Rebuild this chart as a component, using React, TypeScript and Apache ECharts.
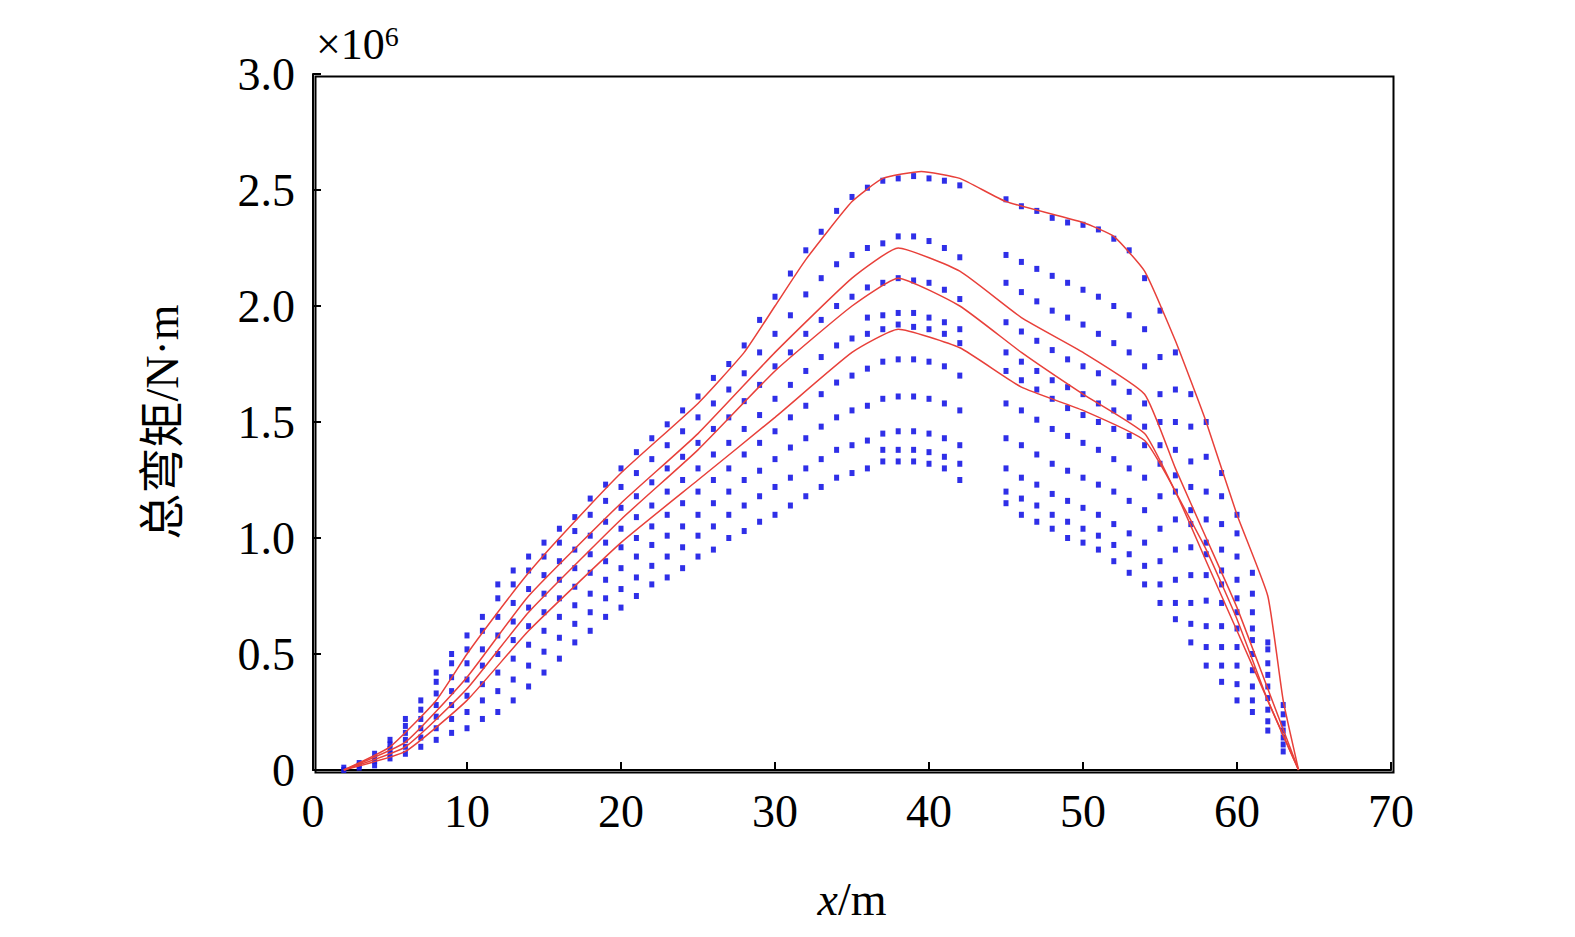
import React, { useRef, useEffect } from 'react';
import * as echarts from 'echarts';

// scatter columns: [x, y values (×10^6 N·m)...]
const dotColumns: number[][] = [
  [2, 0.0, 0.01],
  [3, 0.01, 0.02, 0.03],
  [4, 0.02, 0.04, 0.05, 0.07],
  [5, 0.05, 0.07, 0.09, 0.11, 0.13],
  [6, 0.07, 0.1, 0.13, 0.16, 0.19, 0.22],
  [7, 0.1, 0.14, 0.18, 0.22, 0.26, 0.3],
  [8, 0.13, 0.18, 0.23, 0.28, 0.33, 0.38, 0.42],
  [9, 0.16, 0.22, 0.28, 0.34, 0.4, 0.46, 0.5],
  [10, 0.18, 0.25, 0.32, 0.39, 0.46, 0.52, 0.58],
  [11, 0.22, 0.3, 0.37, 0.45, 0.52, 0.6, 0.66],
  [12, 0.25, 0.34, 0.42, 0.5, 0.58, 0.66, 0.74, 0.8],
  [13, 0.3, 0.39, 0.48, 0.56, 0.64, 0.72, 0.8, 0.86],
  [14, 0.36, 0.45, 0.54, 0.62, 0.7, 0.78, 0.86, 0.92],
  [15, 0.42, 0.51, 0.6, 0.68, 0.76, 0.84, 0.92, 0.98],
  [16, 0.48, 0.57, 0.66, 0.74, 0.82, 0.9, 0.98, 1.04],
  [17, 0.55, 0.63, 0.71, 0.79, 0.87, 0.95, 1.03, 1.09],
  [18, 0.6, 0.68, 0.76, 0.85, 0.93, 1.01, 1.1, 1.17],
  [19, 0.66, 0.74, 0.82, 0.9, 0.98, 1.07, 1.16, 1.23],
  [20, 0.7, 0.78, 0.87, 0.96, 1.04, 1.13, 1.22, 1.3],
  [21, 0.75, 0.83, 0.92, 1.0, 1.09, 1.18, 1.28, 1.37],
  [22, 0.8, 0.88, 0.97, 1.05, 1.14, 1.24, 1.34, 1.43],
  [23, 0.83, 0.92, 1.01, 1.1, 1.2, 1.3, 1.4, 1.49],
  [24, 0.87, 0.96, 1.05, 1.15, 1.25, 1.35, 1.46, 1.55],
  [25, 0.92, 1.01, 1.1, 1.2, 1.3, 1.41, 1.52, 1.61],
  [26, 0.95, 1.05, 1.15, 1.25, 1.36, 1.47, 1.58, 1.69],
  [27, 1.0, 1.1, 1.2, 1.3, 1.41, 1.52, 1.64, 1.75],
  [28, 1.03, 1.14, 1.25, 1.36, 1.47, 1.59, 1.71, 1.83],
  [29, 1.07, 1.18, 1.29, 1.41, 1.53, 1.66, 1.8, 1.94],
  [30, 1.1, 1.22, 1.34, 1.46, 1.6, 1.74, 1.88, 2.04],
  [31, 1.14, 1.26, 1.39, 1.52, 1.66, 1.8, 1.96, 2.14],
  [32, 1.18, 1.3, 1.43, 1.57, 1.72, 1.88, 2.05, 2.24],
  [33, 1.22, 1.34, 1.48, 1.62, 1.78, 1.94, 2.12, 2.32],
  [34, 1.26, 1.38, 1.52, 1.67, 1.83, 2.0, 2.18, 2.41],
  [35, 1.28, 1.4, 1.55, 1.7, 1.86, 2.04, 2.22, 2.47],
  [36, 1.3, 1.42, 1.57, 1.73, 1.88, 1.95, 2.08, 2.25, 2.51],
  [37, 1.33, 1.38, 1.45, 1.6, 1.76, 1.9, 1.96, 2.1, 2.27, 2.54],
  [38, 1.33, 1.38, 1.46, 1.61, 1.77, 1.92, 1.97, 2.12, 2.3, 2.55],
  [39, 1.33, 1.38, 1.46, 1.61, 1.77, 1.91, 1.97, 2.11, 2.3, 2.56],
  [40, 1.32, 1.37, 1.45, 1.6, 1.76, 1.9, 1.95, 2.1, 2.28, 2.55],
  [41, 1.3, 1.35, 1.43, 1.58, 1.74, 1.88, 1.93, 2.07, 2.25, 2.54],
  [42, 1.25, 1.32, 1.4, 1.55, 1.7, 1.84, 1.9, 2.03, 2.21, 2.52],
  [45, 1.15, 1.2, 1.3, 1.43, 1.58, 1.72, 1.8, 1.93, 2.1, 2.22, 2.46],
  [46, 1.1, 1.17, 1.26, 1.4, 1.55, 1.68, 1.76, 1.89, 2.06, 2.19, 2.43],
  [47, 1.07, 1.14, 1.23, 1.36, 1.51, 1.64, 1.72, 1.85, 2.02, 2.16, 2.41],
  [48, 1.04, 1.1, 1.19, 1.32, 1.47, 1.6, 1.68, 1.81, 1.98, 2.13, 2.38],
  [49, 1.0, 1.07, 1.16, 1.29, 1.44, 1.56, 1.65, 1.77, 1.95, 2.1, 2.36],
  [50, 0.98, 1.04, 1.13, 1.26, 1.41, 1.53, 1.62, 1.74, 1.92, 2.07, 2.35],
  [51, 0.95, 1.01, 1.1, 1.23, 1.38, 1.5, 1.58, 1.71, 1.88, 2.04, 2.33],
  [52, 0.9, 0.97, 1.06, 1.2, 1.34, 1.47, 1.55, 1.67, 1.84, 2.0, 2.29],
  [53, 0.85, 0.93, 1.02, 1.16, 1.3, 1.44, 1.52, 1.63, 1.8, 1.96, 2.24],
  [54, 0.8, 0.88, 0.98, 1.12, 1.26, 1.4, 1.48, 1.58, 1.74, 1.9, 2.12],
  [55, 0.72, 0.8, 0.9, 1.04, 1.18, 1.32, 1.4, 1.5, 1.62, 1.78, 1.98],
  [56, 0.65, 0.72, 0.82, 0.95, 1.08, 1.2, 1.27, 1.38, 1.5, 1.64, 1.8],
  [57, 0.55, 0.63, 0.72, 0.84, 0.96, 1.06, 1.12, 1.22, 1.33, 1.48, 1.62],
  [58, 0.45, 0.53, 0.62, 0.73, 0.84, 0.93, 0.98, 1.08, 1.2, 1.35, 1.5],
  [59, 0.38, 0.45, 0.53, 0.62, 0.72, 0.8, 0.86, 0.95, 1.06, 1.18, 1.28],
  [60, 0.3, 0.37, 0.45, 0.53, 0.61, 0.68, 0.74, 0.82, 0.92, 1.02, 1.1],
  [61, 0.25, 0.3, 0.36, 0.43, 0.5, 0.56, 0.61, 0.68, 0.76, 0.85],
  [62, 0.17, 0.21, 0.26, 0.31, 0.36, 0.41, 0.46, 0.52, 0.55],
  [63, 0.08, 0.11, 0.14, 0.17, 0.2, 0.24, 0.28],
];

const envelopeTop: number[][] = [
  [2, 0], [5, 0.1], [8, 0.3], [10, 0.5], [12, 0.68], [14, 0.85], [16, 1.0], [20, 1.28],
  [25, 1.58], [28, 1.8], [30, 2.0], [32, 2.2], [35, 2.45], [37, 2.55], [39.5, 2.58], [42, 2.55],
  [45, 2.45], [50, 2.36], [52, 2.3], [54, 2.15], [56, 1.85], [58, 1.5], [60, 1.1], [62, 0.75],
  [63, 0.3], [64, 0],
];
const envelope2: number[][] = [
  [2, 0], [6, 0.12], [10, 0.4], [14, 0.75], [20, 1.15], [25, 1.45], [30, 1.8], [35, 2.12],
  [38, 2.25], [42, 2.15], [46, 1.95], [50, 1.8], [54, 1.62], [56, 1.3], [58, 1.0], [60, 0.7],
  [62, 0.35], [64, 0],
];
const envelope3: number[][] = [
  [2, 0], [6, 0.1], [10, 0.35], [14, 0.68], [20, 1.08], [25, 1.38], [30, 1.72], [35, 2.0],
  [38, 2.12], [42, 2.0], [46, 1.8], [50, 1.62], [54, 1.45], [56, 1.2], [58, 0.95], [60, 0.65],
  [62, 0.3], [64, 0],
];
const envelope4: number[][] = [
  [2, 0], [6, 0.08], [10, 0.3], [14, 0.6], [20, 0.98], [25, 1.25], [30, 1.52], [35, 1.8],
  [38, 1.9], [42, 1.82], [46, 1.65], [50, 1.55], [54, 1.42], [56, 1.2], [58, 0.9], [60, 0.6],
  [62, 0.3], [64, 0],
];

const FONT = '"Liberation Serif", "Noto Sans CJK SC", serif';

const App: React.FC = () => {
  const ref = useRef<HTMLDivElement>(null);

  useEffect(() => {
    if (!ref.current) return;
    const chart = echarts.init(ref.current, null, { renderer: 'svg' });
    const dots: number[][] = [];
    dotColumns.forEach(([x, ...ys]) => ys.forEach((y) => dots.push([x, y])));
    const axisLine = { show: true, lineStyle: { color: '#000', width: 2 } };
    const tick = { inside: true, length: 8, lineStyle: { color: '#000', width: 2 } };
    const lineSeries = (data: number[][]) => ({
      type: 'line', data, smooth: 0.15, showSymbol: false,
      lineStyle: { color: '#e8403a', width: 1.5 }, z: 3,
    });
    chart.setOption({
      animation: false,
      backgroundColor: '#fff',
      grid: { left: 313, top: 74, width: 1078, height: 696, outerBoundsMode: 'none' },
      xAxis: {
        type: 'value', min: 0, max: 70, interval: 10,
        axisLine, axisTick: tick,
        axisLabel: { fontFamily: FONT, fontSize: 46, color: '#000', margin: 18 },
        splitLine: { show: false },
        name: '{i|x}/m', nameLocation: 'middle', nameGap: 106,
        nameTextStyle: { fontFamily: FONT, fontSize: 46, color: '#000', rich: { i: { fontStyle: 'italic', fontFamily: FONT, fontSize: 46 } } },
      },
      yAxis: {
        type: 'value', min: 0, max: 3, interval: 0.5,
        axisLine, axisTick: tick,
        axisLabel: { fontFamily: FONT, fontSize: 46, color: '#000', margin: 18, formatter: (v: number) => (v === 0 ? '0' : v.toFixed(1)) },
        splitLine: { show: false },
        name: '总弯矩/N·m', nameLocation: 'middle', nameGap: 128,
        nameTextStyle: { fontFamily: FONT, fontSize: 46, color: '#000' },
      },
      graphic: [
        {
          type: 'rect', left: 313, top: 74, silent: true,
          shape: { width: 1078, height: 696 },
          style: { fill: 'none', stroke: '#000', lineWidth: 2 },
        },
        {
          type: 'text', left: 316, top: 22,
          style: { text: '×10{s|6}', fontFamily: FONT, fontSize: 44, fill: '#000', rich: { s: { fontSize: 28, verticalAlign: 'top', fontFamily: FONT } } },
        },
      ],
      series: [
        {
          type: 'scatter', data: dots, symbol: 'rect', symbolSize: [5, 6],
          itemStyle: { color: '#1818e6', opacity: 0.9 }, z: 2,
        },
        lineSeries(envelopeTop),
        lineSeries(envelope2),
        lineSeries(envelope3),
        lineSeries(envelope4),
      ],
    });
    return () => chart.dispose();
  }, []);

  return <div ref={ref} style={{ position: 'fixed', left: 0, top: 0, width: 1575, height: 937 }} />;
};

export default App;
